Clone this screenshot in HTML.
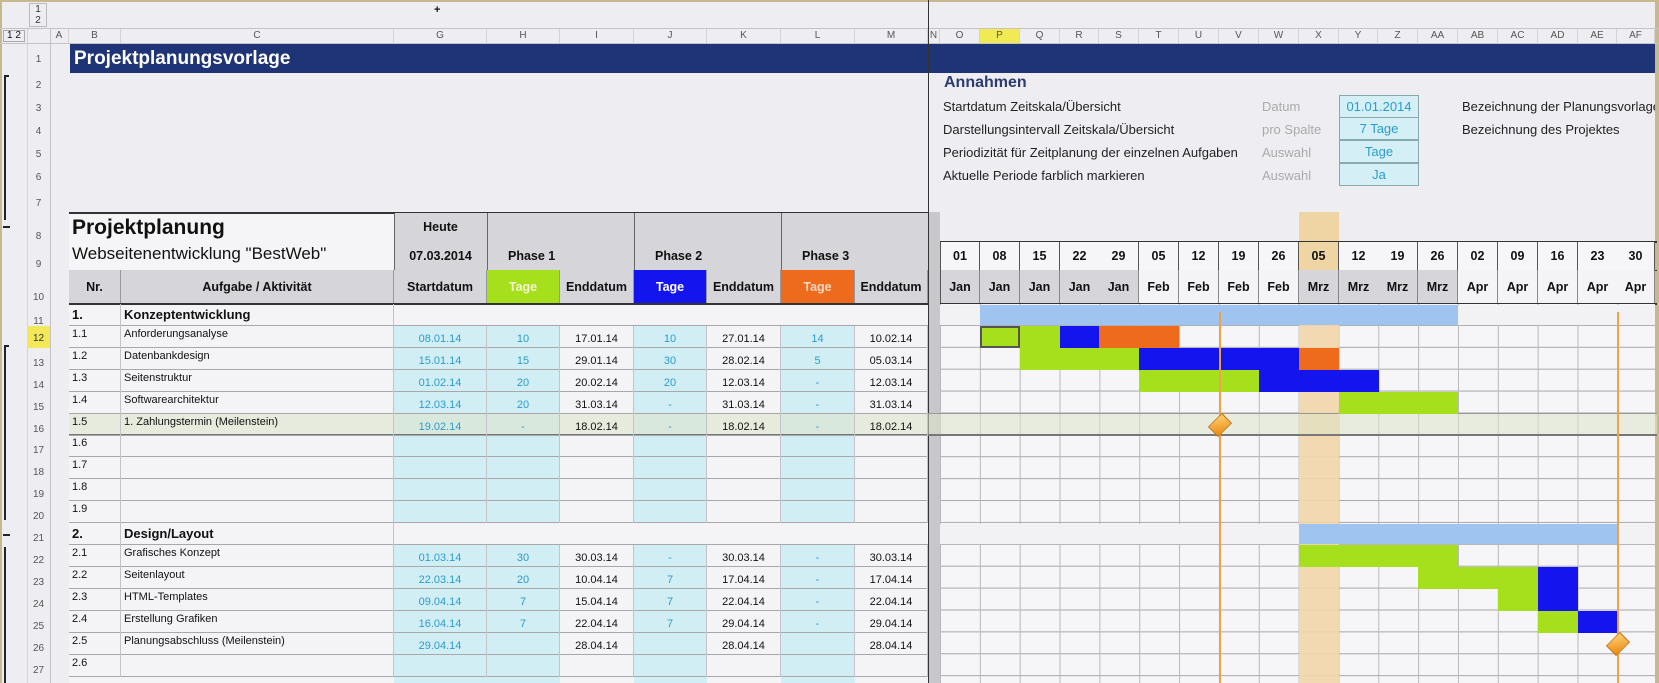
<!DOCTYPE html>
<html><head><meta charset="utf-8">
<style>
*{margin:0;padding:0;box-sizing:border-box}
body{width:1659px;height:683px;overflow:hidden;background:#eeeef2;font-family:"Liberation Sans",Arial,sans-serif;position:relative;color:#111}
.a{position:absolute}
.rn{position:absolute;left:27px;width:23px;font-size:10px;color:#555;text-align:center}
.cl{position:absolute;top:29px;height:14px;font-size:10px;color:#555;text-align:center;line-height:14px;border-right:1px solid #d4d4d8}
.row{position:absolute;left:69px;width:859px;height:22px;border-bottom:1px solid #a8a8ac;font-size:11px}
.row span{position:absolute;top:0;height:22px;line-height:26px;text-align:center;border-right:1px solid #c4c4c8}
.row .b{left:0;width:52px;text-align:left;padding-left:3px;line-height:16px}
.row .c{left:52px;width:273px;text-align:left;padding-left:3px;line-height:16px}
.g{left:325px;width:93px;color:#2a9ccc}
.h{left:418px;width:73px;color:#2a9ccc}
.i{left:491px;width:74px}
.j{left:565px;width:73px;color:#2a9ccc}
.k{left:638px;width:74px}
.l{left:712px;width:74px;color:#2a9ccc}
.m{left:786px;width:73px}
.sec span.b,.sec span.c{font-weight:bold;font-size:13px;line-height:22px}
.hd{position:absolute;top:270px;height:34px;line-height:34px;text-align:center;font-weight:bold;font-size:12.5px;background:#d6d6da;border-right:1px solid #999}
.day{position:absolute;top:242px;height:28px;width:40px;line-height:28px;text-align:center;font-weight:bold;font-size:12.5px;border-right:1px solid #555;background:#f6f6f8}
.mon{position:absolute;top:270px;height:34px;width:40px;line-height:34px;text-align:center;font-weight:bold;font-size:12.5px;border-right:1px solid #888}
.bar{position:absolute;height:22px;width:40px}
.G{background:#a6e01c}.B{background:#1414ee}.O{background:#ee6a1c}
.ann{position:absolute;font-size:13px;color:#222}
.gr{position:absolute;font-size:13px;color:#aaa}
.bx{position:absolute;left:1339px;width:80px;height:23px;background:#d4f0f6;border:1px solid #8aa;color:#2a9ccc;font-size:13px;text-align:center;line-height:21px}
</style></head><body>
<div class="a" style="left:0;top:0;width:1659px;height:2px;background:#c8b890"></div>
<div class="a" style="left:0;top:0;width:2px;height:683px;background:#c8b890"></div>
<div class="a" style="left:1655px;top:0;width:4px;height:683px;background:#c8b890"></div>
<div class="a" style="left:29px;top:3px;width:18px;height:24px;border:1px solid #bbb;font-size:10px;text-align:center;line-height:11px;color:#333">1<br>2</div>
<div class="a" style="left:434px;top:4px;font-size:11px;font-weight:bold">+</div>
<div class="a" style="left:0;top:28px;width:1659px;height:1px;background:#c4c4c8"></div>
<div class="a" style="left:0;top:43px;width:1659px;height:1px;background:#c4c4c8"></div>
<div class="a" style="left:3px;top:30px;width:22px;height:12px;font-size:10px;border:1px solid #aaa;line-height:10px;text-align:center">1 2</div>
<div class="a" style="left:50px;top:29px;width:1px;height:654px;background:#c4c4c8"></div>
<div class="a" style="left:27px;top:29px;width:1px;height:654px;background:#d4d4d8"></div>
<div class="cl" style="left:50px;width:19px">A</div>
<div class="cl" style="left:69px;width:52px">B</div>
<div class="cl" style="left:121px;width:273px">C</div>
<div class="cl" style="left:394px;width:93px">G</div>
<div class="cl" style="left:487px;width:73px">H</div>
<div class="cl" style="left:560px;width:74px">I</div>
<div class="cl" style="left:634px;width:73px">J</div>
<div class="cl" style="left:707px;width:74px">K</div>
<div class="cl" style="left:781px;width:74px">L</div>
<div class="cl" style="left:855px;width:73px">M</div>
<div class="cl" style="left:928px;width:12px">N</div>
<div class="cl" style="left:940px;width:40px">O</div>
<div class="cl" style="left:980px;width:40px;background:#f2ea52">P</div>
<div class="cl" style="left:1020px;width:40px">Q</div>
<div class="cl" style="left:1060px;width:39px">R</div>
<div class="cl" style="left:1099px;width:40px">S</div>
<div class="cl" style="left:1139px;width:40px">T</div>
<div class="cl" style="left:1179px;width:40px">U</div>
<div class="cl" style="left:1219px;width:40px">V</div>
<div class="cl" style="left:1259px;width:40px">W</div>
<div class="cl" style="left:1299px;width:40px">X</div>
<div class="cl" style="left:1339px;width:39px">Y</div>
<div class="cl" style="left:1378px;width:40px">Z</div>
<div class="cl" style="left:1418px;width:40px">AA</div>
<div class="cl" style="left:1458px;width:40px">AB</div>
<div class="cl" style="left:1498px;width:40px">AC</div>
<div class="cl" style="left:1538px;width:40px">AD</div>
<div class="cl" style="left:1578px;width:39px">AE</div>
<div class="cl" style="left:1617px;width:38px">AF</div>
<div class="rn" style="top:54px">1</div>
<div class="rn" style="top:80px">2</div><div class="rn" style="top:103px">3</div><div class="rn" style="top:126px">4</div>
<div class="rn" style="top:149px">5</div><div class="rn" style="top:172px">6</div><div class="rn" style="top:198px">7</div>
<div class="rn" style="top:231px">8</div><div class="rn" style="top:259px">9</div><div class="rn" style="top:292px">10</div>
<div class="rn" style="top:316px">11</div>
<div class="rn" style="top:326px;height:22px;line-height:26px;background:#f2e85a;color:#333">12</div>
<div class="rn" style="top:358px">13</div><div class="rn" style="top:380px">14</div><div class="rn" style="top:402px">15</div>
<div class="rn" style="top:424px">16</div><div class="rn" style="top:445px">17</div><div class="rn" style="top:467px">18</div>
<div class="rn" style="top:489px">19</div><div class="rn" style="top:511px">20</div><div class="rn" style="top:533px">21</div>
<div class="rn" style="top:555px">22</div><div class="rn" style="top:577px">23</div><div class="rn" style="top:599px">24</div>
<div class="rn" style="top:621px">25</div><div class="rn" style="top:643px">26</div><div class="rn" style="top:665px">27</div>
<div class="a" style="left:4px;top:75px;width:2px;height:145px;background:#222"></div>
<div class="a" style="left:4px;top:75px;width:5px;height:2px;background:#222"></div>
<div class="a" style="left:3px;top:226px;width:7px;height:2px;background:#222"></div>
<div class="a" style="left:4px;top:345px;width:2px;height:175px;background:#222"></div>
<div class="a" style="left:4px;top:345px;width:5px;height:2px;background:#222"></div>
<div class="a" style="left:3px;top:534px;width:7px;height:2px;background:#222"></div>
<div class="a" style="left:4px;top:547px;width:2px;height:136px;background:#222"></div>
<div class="a" style="left:70px;top:44px;width:1585px;height:29px;background:#1f3476;color:#fff;font-weight:bold;font-size:19px;line-height:29px;padding-left:4px">Projektplanungsvorlage</div>
<div class="a" style="left:928px;top:0;width:1px;height:683px;background:#333"></div>
<div class="a" style="left:944px;top:74px;font-size:16px;font-weight:bold;color:#2b3d70">Annahmen</div>
<div class="ann" style="left:943px;top:99px">Startdatum Zeitskala/Übersicht</div>
<div class="ann" style="left:943px;top:122px">Darstellungsintervall Zeitskala/Übersicht</div>
<div class="ann" style="left:943px;top:145px">Periodizität für Zeitplanung der einzelnen Aufgaben</div>
<div class="ann" style="left:943px;top:168px">Aktuelle Periode farblich markieren</div>
<div class="gr" style="left:1262px;top:99px">Datum</div>
<div class="gr" style="left:1262px;top:122px">pro Spalte</div>
<div class="gr" style="left:1262px;top:145px">Auswahl</div>
<div class="gr" style="left:1262px;top:168px">Auswahl</div>
<div class="bx" style="top:95px">01.01.2014</div>
<div class="bx" style="top:117px">7 Tage</div>
<div class="bx" style="top:140px">Tage</div>
<div class="bx" style="top:163px">Ja</div>
<div class="ann" style="left:1462px;top:99px;white-space:nowrap;width:193px;overflow:hidden">Bezeichnung der Planungsvorlage</div>
<div class="ann" style="left:1462px;top:122px">Bezeichnung des Projektes</div>
<div class="a" style="left:69px;top:212px;width:859px;height:92px;border-top:2px solid #333;border-bottom:2px solid #333;background:#f5f5f7"></div>
<div class="a" style="left:394px;top:213px;width:534px;height:57px;background:#d6d6da"></div>
<div class="a" style="left:394px;top:213px;width:1px;height:91px;background:#666"></div>
<div class="a" style="left:487px;top:213px;width:1px;height:57px;background:#666"></div>
<div class="a" style="left:634px;top:213px;width:1px;height:57px;background:#666"></div>
<div class="a" style="left:781px;top:213px;width:1px;height:57px;background:#666"></div>
<div class="a" style="left:69px;top:270px;width:859px;height:1px;background:#333"></div>
<div class="a" style="left:72px;top:216px;font-size:21px;font-weight:bold">Projektplanung</div>
<div class="a" style="left:72px;top:244px;font-size:17px">Webseitenentwicklung "BestWeb"</div>
<div class="a" style="left:394px;top:220px;width:93px;text-align:center;font-weight:bold;font-size:12.5px">Heute</div>
<div class="a" style="left:394px;top:249px;width:93px;text-align:center;font-weight:bold;font-size:12.5px">07.03.2014</div>
<div class="a" style="left:508px;top:249px;font-weight:bold;font-size:12.5px">Phase 1</div>
<div class="a" style="left:655px;top:249px;font-weight:bold;font-size:12.5px">Phase 2</div>
<div class="a" style="left:802px;top:249px;font-weight:bold;font-size:12.5px">Phase 3</div>
<div class="hd" style="left:69px;width:52px">Nr.</div>
<div class="hd" style="left:121px;width:273px">Aufgabe / Aktivität</div>
<div class="hd" style="left:394px;width:93px">Startdatum</div>
<div class="hd" style="left:487px;width:73px;background:#a6e01c;color:#f4f4d0">Tage</div>
<div class="hd" style="left:560px;width:74px">Enddatum</div>
<div class="hd" style="left:634px;width:73px;background:#1414ee;color:#fff">Tage</div>
<div class="hd" style="left:707px;width:74px">Enddatum</div>
<div class="hd" style="left:781px;width:74px;background:#ee6a1c;color:#f6d8c0">Tage</div>
<div class="hd" style="left:855px;width:73px">Enddatum</div>
<div class="a" style="left:69px;top:303px;width:859px;height:2px;background:#333"></div>
<div class="a" style="left:929px;top:212px;width:11px;height:471px;background:#c8c8cc"></div>
<div class="a" style="left:1299px;top:212px;width:40px;height:30px;background:#f0d5a4"></div>
<div class="a" style="left:940px;top:241px;width:717px;height:2px;background:#333"></div>
<div class="day" style="left:940px;border-left:1px solid #555">01</div><div class="day" style="left:980px">08</div><div class="day" style="left:1020px">15</div><div class="day" style="left:1060px">22</div><div class="day" style="left:1099px">29</div><div class="day" style="left:1139px">05</div><div class="day" style="left:1179px">12</div><div class="day" style="left:1219px">19</div><div class="day" style="left:1259px">26</div><div class="day" style="left:1299px;background:#f0d5a4">05</div><div class="day" style="left:1339px">12</div><div class="day" style="left:1378px">19</div><div class="day" style="left:1418px">26</div><div class="day" style="left:1458px">02</div><div class="day" style="left:1498px">09</div><div class="day" style="left:1538px">16</div><div class="day" style="left:1578px">23</div><div class="day" style="left:1617px;width:38px">30</div>
<div class="a" style="left:940px;top:270px;width:717px;height:1px;background:#333"></div>
<div class="mon" style="left:940px;background:#d6d6da;border-left:1px solid #555">Jan</div><div class="mon" style="left:980px;background:#d6d6da">Jan</div><div class="mon" style="left:1020px;background:#d6d6da">Jan</div><div class="mon" style="left:1060px;background:#d6d6da">Jan</div><div class="mon" style="left:1099px;background:#d6d6da">Jan</div><div class="mon" style="left:1139px;background:#f4f4f6">Feb</div><div class="mon" style="left:1179px;background:#f4f4f6">Feb</div><div class="mon" style="left:1219px;background:#f4f4f6">Feb</div><div class="mon" style="left:1259px;background:#f4f4f6">Feb</div><div class="mon" style="left:1299px;background:#d6d6da">Mrz</div><div class="mon" style="left:1339px;background:#d6d6da">Mrz</div><div class="mon" style="left:1378px;background:#d6d6da">Mrz</div><div class="mon" style="left:1418px;background:#d6d6da">Mrz</div><div class="mon" style="left:1458px;background:#f4f4f6">Apr</div><div class="mon" style="left:1498px;background:#f4f4f6">Apr</div><div class="mon" style="left:1538px;background:#f4f4f6">Apr</div><div class="mon" style="left:1578px;background:#f4f4f6">Apr</div><div class="mon" style="left:1617px;width:38px;background:#f4f4f6">Apr</div>
<div class="a" style="left:940px;top:303px;width:717px;height:2px;background:#333"></div>
<div class="a" style="left:940px;top:304px;width:715px;height:379px;background-color:#f6f6f8;background-image:linear-gradient(to right,#b8b8bc 1px,transparent 1px),linear-gradient(to bottom,transparent 20.9px,#a8a8ac 20.9px);background-size:39.85px 21.9px;background-position:0 0,0 0"></div>
<div class="a" style="left:940px;top:305px;width:715px;height:20px;background:#f2f2f4"></div>
<div class="a" style="left:940px;top:524px;width:715px;height:20px;background:#f2f2f4"></div>
<div class="a" style="left:1299px;top:305px;width:40px;height:378px;background:#f2d6a8;opacity:.9"></div>
<div class="a" style="left:69px;top:305px;width:859px;height:378px;background:#f4f4f6"></div>
<div class="a" style="left:394px;top:326px;width:166px;height:197px;background:#d2eef5"></div>
<div class="a" style="left:634px;top:326px;width:73px;height:197px;background:#d2eef5"></div>
<div class="a" style="left:781px;top:326px;width:74px;height:197px;background:#d2eef5"></div>
<div class="a" style="left:394px;top:545px;width:166px;height:138px;background:#d2eef5"></div>
<div class="a" style="left:634px;top:545px;width:73px;height:138px;background:#d2eef5"></div>
<div class="a" style="left:781px;top:545px;width:74px;height:138px;background:#d2eef5"></div>
<div class="a" style="left:69px;top:413px;width:1588px;height:23px;background:rgba(220,228,200,.55);border-top:1px solid #999;border-bottom:2px solid #777"></div>
<div class="row sec" style="top:304px"><span class="b">1.</span><span class="c">Konzeptentwicklung</span></div>
<div class="row" style="top:326px"><span class="b">1.1</span><span class="c">Anforderungsanalyse</span><span class="g">08.01.14</span><span class="h">10</span><span class="i">17.01.14</span><span class="j">10</span><span class="k">27.01.14</span><span class="l">14</span><span class="m">10.02.14</span></div>
<div class="row" style="top:348px"><span class="b">1.2</span><span class="c">Datenbankdesign</span><span class="g">15.01.14</span><span class="h">15</span><span class="i">29.01.14</span><span class="j">30</span><span class="k">28.02.14</span><span class="l">5</span><span class="m">05.03.14</span></div>
<div class="row" style="top:370px"><span class="b">1.3</span><span class="c">Seitenstruktur</span><span class="g">01.02.14</span><span class="h">20</span><span class="i">20.02.14</span><span class="j">20</span><span class="k">12.03.14</span><span class="l">-</span><span class="m">12.03.14</span></div>
<div class="row" style="top:392px"><span class="b">1.4</span><span class="c">Softwarearchitektur</span><span class="g">12.03.14</span><span class="h">20</span><span class="i">31.03.14</span><span class="j">-</span><span class="k">31.03.14</span><span class="l">-</span><span class="m">31.03.14</span></div>
<div class="row" style="top:414px"><span class="b">1.5</span><span class="c">1. Zahlungstermin  (Meilenstein)</span><span class="g">19.02.14</span><span class="h">-</span><span class="i">18.02.14</span><span class="j">-</span><span class="k">18.02.14</span><span class="l">-</span><span class="m">18.02.14</span></div>
<div class="row" style="top:435px"><span class="b">1.6</span><span class="c"></span><span class="g"></span><span class="h"></span><span class="i"></span><span class="j"></span><span class="k"></span><span class="l"></span><span class="m"></span></div>
<div class="row" style="top:457px"><span class="b">1.7</span><span class="c"></span><span class="g"></span><span class="h"></span><span class="i"></span><span class="j"></span><span class="k"></span><span class="l"></span><span class="m"></span></div>
<div class="row" style="top:479px"><span class="b">1.8</span><span class="c"></span><span class="g"></span><span class="h"></span><span class="i"></span><span class="j"></span><span class="k"></span><span class="l"></span><span class="m"></span></div>
<div class="row" style="top:501px"><span class="b">1.9</span><span class="c"></span><span class="g"></span><span class="h"></span><span class="i"></span><span class="j"></span><span class="k"></span><span class="l"></span><span class="m"></span></div>
<div class="row sec" style="top:523px"><span class="b">2.</span><span class="c">Design/Layout</span></div>
<div class="row" style="top:545px"><span class="b">2.1</span><span class="c">Grafisches Konzept</span><span class="g">01.03.14</span><span class="h">30</span><span class="i">30.03.14</span><span class="j">-</span><span class="k">30.03.14</span><span class="l">-</span><span class="m">30.03.14</span></div>
<div class="row" style="top:567px"><span class="b">2.2</span><span class="c">Seitenlayout</span><span class="g">22.03.14</span><span class="h">20</span><span class="i">10.04.14</span><span class="j">7</span><span class="k">17.04.14</span><span class="l">-</span><span class="m">17.04.14</span></div>
<div class="row" style="top:589px"><span class="b">2.3</span><span class="c">HTML-Templates</span><span class="g">09.04.14</span><span class="h">7</span><span class="i">15.04.14</span><span class="j">7</span><span class="k">22.04.14</span><span class="l">-</span><span class="m">22.04.14</span></div>
<div class="row" style="top:611px"><span class="b">2.4</span><span class="c">Erstellung Grafiken</span><span class="g">16.04.14</span><span class="h">7</span><span class="i">22.04.14</span><span class="j">7</span><span class="k">29.04.14</span><span class="l">-</span><span class="m">29.04.14</span></div>
<div class="row" style="top:633px"><span class="b">2.5</span><span class="c">Planungsabschluss (Meilenstein)</span><span class="g">29.04.14</span><span class="h"></span><span class="i">28.04.14</span><span class="j"></span><span class="k">28.04.14</span><span class="l"></span><span class="m">28.04.14</span></div>
<div class="row" style="top:655px"><span class="b">2.6</span><span class="c"></span><span class="g"></span><span class="h"></span><span class="i"></span><span class="j"></span><span class="k"></span><span class="l"></span><span class="m"></span></div>
<div class="a" style="left:980px;top:305px;width:478px;height:20px;background:#9ec4ef"></div>
<div class="a" style="left:1299px;top:524px;width:319px;height:20px;background:#9ec4ef"></div>
<div class="bar G" style="left:980px;top:326px;border:2px solid #555"></div><div class="bar G" style="left:1020px;top:326px"></div><div class="bar B" style="left:1060px;top:326px"></div><div class="bar O" style="left:1099px;top:326px;width:80px"></div>
<div class="bar G" style="left:1020px;top:348px;width:119px"></div><div class="bar B" style="left:1139px;top:348px;width:160px"></div><div class="bar O" style="left:1299px;top:348px"></div>
<div class="bar G" style="left:1139px;top:370px;width:120px"></div><div class="bar B" style="left:1259px;top:370px;width:120px"></div>
<div class="bar G" style="left:1339px;top:392px;width:119px"></div>
<div class="bar G" style="left:1299px;top:545px;width:159px"></div>
<div class="bar G" style="left:1418px;top:567px;width:120px"></div><div class="bar B" style="left:1538px;top:567px"></div>
<div class="bar G" style="left:1498px;top:589px"></div><div class="bar B" style="left:1538px;top:589px"></div>
<div class="bar G" style="left:1538px;top:611px"></div><div class="bar B" style="left:1578px;top:611px"></div>
<div class="a" style="left:1219px;top:312px;width:2px;height:371px;background:#eea24a"></div>
<div class="a" style="left:1617px;top:312px;width:2px;height:371px;background:#eea24a"></div>
<div class="a" style="left:1211px;top:416px;width:18px;height:18px;transform:rotate(45deg) scale(.8,1.1);background:linear-gradient(135deg,#ffd070,#e88a10);border:1px solid #c87010"></div>
<div class="a" style="left:1609px;top:635px;width:18px;height:18px;transform:rotate(45deg) scale(.8,1.1);background:linear-gradient(135deg,#ffd070,#e88a10);border:1px solid #c87010"></div>
</body></html>
